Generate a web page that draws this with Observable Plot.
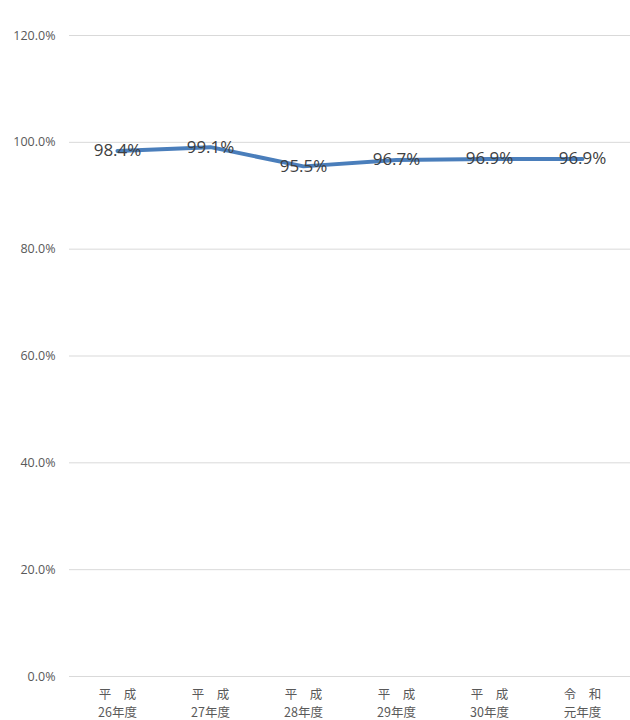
<!DOCTYPE html>
<html>
<head>
<meta charset="utf-8">
<script src="https://cdn.jsdelivr.net/npm/d3@7"></script>
<script src="https://cdn.jsdelivr.net/npm/@observablehq/plot@0.6"></script>
<style>
  html, body { margin: 0; padding: 0; background: #fff; }
  #chart svg { display: block; }
</style>
</head>
<body>
<div id="chart"></div>
<script>
const categories = ["平　成\n26年度", "平　成\n27年度", "平　成\n28年度", "平　成\n29年度", "平　成\n30年度", "令　和\n元年度"];
const values = [0.984, 0.991, 0.955, 0.967, 0.969, 0.969];
const valueLabels = ["98.4%", "99.1%", "95.5%", "96.7%", "96.9%", "96.9%"];
const yTicks = [0, 0.2, 0.4, 0.6, 0.8, 1.0, 1.2];

const data = categories.map((c, i) => ({cat: c, value: values[i], label: valueLabels[i]}));

const chart = Plot.plot({
  width: 630,
  height: 720,
  marginTop: 35,
  marginBottom: 44,
  marginLeft: 69,
  marginRight: 0,
  style: {fontFamily: "'Noto Sans CJK JP', sans-serif", background: "#fff"},
  x: {type: "point", domain: categories, padding: 0.5, label: null},
  y: {domain: [0, 1.2], label: null},
  marks: [
    Plot.gridY(yTicks, {stroke: "#d9d9d9", strokeOpacity: 1, strokeWidth: 1}),
    Plot.axisY(yTicks, {tickSize: 0, tickPadding: 14, tickFormat: d3.format(".1%"), fontSize: 12.5, fill: "#595959", label: null, fontFamily: "'Open Sans', sans-serif"}),
    Plot.axisX({tickSize: 0, tickPadding: 10, fontSize: 12.5, fill: "#595959", lineHeight: 1.42, label: null}),
    Plot.lineY(data, {x: "cat", y: "value", stroke: "#4a7ebb", strokeWidth: 4}),
    Plot.text(data, {x: "cat", y: "value", text: "label", fontSize: 17, fill: "#404040", fontFamily: "'Open Sans', sans-serif"})
  ]
});
document.getElementById("chart").appendChild(chart);
</script>
</body>
</html>
